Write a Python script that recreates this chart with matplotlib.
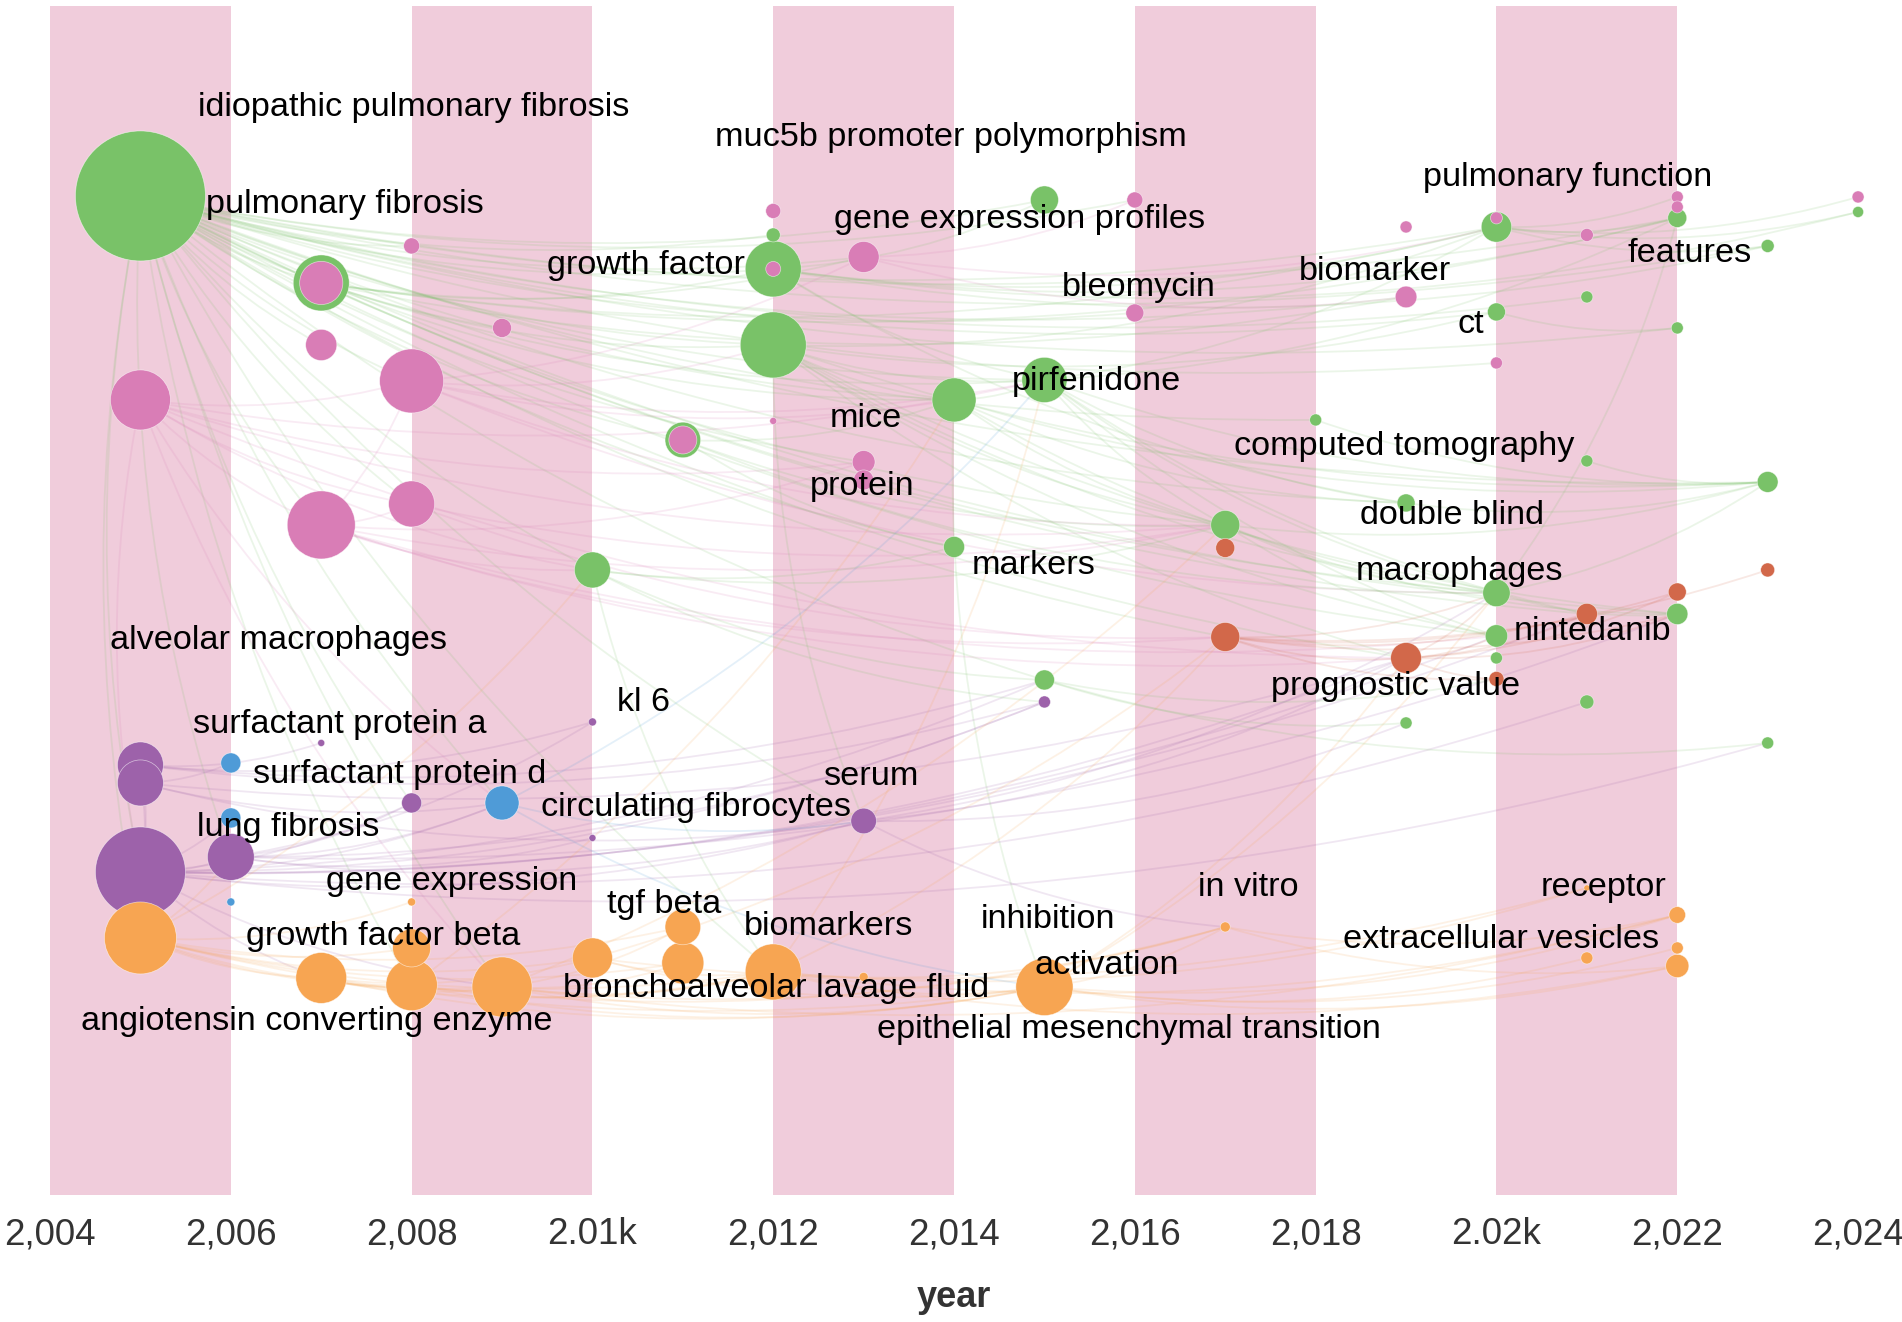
import matplotlib.pyplot as plt
from matplotlib.patches import FancyArrowPatch

plt.rcParams['font.family'] = ['Liberation Sans', 'DejaVu Sans']

# ---- nodes per cluster: year, vertical layout position (0 = top), radius in px
green_year = [2005, 2007, 2011, 2012, 2012, 2012, 2010, 2014, 2014, 2015, 2015,
              2015, 2017, 2018, 2019, 2019, 2020, 2020, 2020, 2020, 2020, 2021,
              2021, 2021, 2022, 2022, 2022, 2023, 2023, 2023, 2024]
green_pos = [196, 283, 440, 235, 269, 345, 570, 400, 547, 200, 380,
             680, 525, 420, 503, 723, 227, 312, 593, 636, 658, 297,
             461, 702, 218, 328, 614, 246, 482, 743, 212]
green_size = [65, 28, 17.8, 7, 28, 33, 18, 22, 10.5, 14, 22.6,
              10, 14.5, 6, 9, 6, 15.2, 9, 13.7, 11.2, 6, 6,
              6, 7, 9.5, 6, 10.6, 6.5, 10.4, 6, 5.5]

pink_year = [2005, 2007, 2007, 2007, 2008, 2008, 2008, 2009, 2011, 2012, 2012,
             2012, 2013, 2013, 2013, 2016, 2016, 2019, 2019, 2020, 2020, 2021,
             2022, 2022, 2024]
pink_pos = [400, 283, 345, 525, 246, 381, 504, 328, 440, 211, 269,
            421, 257, 462, 480, 200, 313, 227, 297, 218, 363, 235,
            197, 207, 197]
pink_size = [30, 21.6, 15.6, 34, 8, 32, 23, 9.5, 14, 7.5, 7.5,
             3.5, 15.5, 11.4, 10, 8, 9, 6, 10.8, 6, 6, 6.5,
             6, 6, 6]

purple_year = [2005, 2005, 2005, 2006, 2007, 2008, 2010, 2010, 2013, 2015]
purple_pos = [765, 783, 872, 857, 743, 803, 722, 838, 821, 702]
purple_size = [23, 23, 45, 23.4, 3.5, 10, 4, 3.5, 12.8, 6]

blue_year = [2006, 2006, 2006, 2009]
blue_pos = [763, 818, 902, 803]
blue_size = [10, 10, 4, 17]

orange_year = [2005, 2007, 2008, 2008, 2008, 2009, 2010, 2011, 2011, 2012,
               2013, 2015, 2017, 2021, 2021, 2022, 2022, 2022]
orange_pos = [938, 978, 948, 985, 902, 987, 958, 927, 963, 972,
              977, 987, 927, 888, 958, 915, 948, 966]
orange_size = [36, 25.4, 19, 25.7, 4, 30, 20, 17.8, 21, 28,
               4.5, 28.6, 5, 3, 6, 8.3, 6, 11.6]

red_year = [2017, 2017, 2019, 2020, 2021, 2022, 2023]
red_pos = [548, 637, 658, 679, 614, 592, 570]
red_size = [9.5, 14.5, 15.4, 7.5, 10.6, 9, 7]

# co-occurrence links (source node, target node)
edges = [
    ('g0', 'g1'), ('g0', 'p2'), ('g0', 'p3'), ('g0', 'p4'), ('g0', 'p5'), ('g0', 'p6'),
    ('g0', 'p7'), ('g0', 'g2'), ('g0', 'g3'), ('g0', 'g4'), ('g0', 'g5'), ('g0', 'g6'),
    ('g0', 'g7'), ('g0', 'g9'), ('g0', 'g10'), ('g0', 'g12'), ('g0', 'g13'), ('g0', 'g14'),
    ('g0', 'g16'), ('g0', 'g17'), ('g0', 'g18'), ('g0', 'g21'), ('g0', 'g24'), ('g0', 'g28'),
    ('g0', 'p12'), ('g0', 'p13'), ('g0', 'p15'), ('g0', 'p16'), ('g0', 'p18'), ('g0', 'o0'),
    ('g0', 'o5'), ('g0', 'b3'), ('g0', 'u3'), ('g0', 'r1'), ('g0', 'r2'), ('g0', 'g8'),
    ('g0', 'g11'), ('g0', 'o9'), ('g0', 'u5'), ('g0', 'g27'), ('g0', 'g25'), ('g0', 'p20'),
    ('g0', 'u8'), ('g0', 'r4'), ('g0', 'g19'), ('g0', 'g26'), ('g0', 'o3'), ('g0', 'u2'),
    ('p0', 'p3'), ('p0', 'p5'), ('p0', 'p6'), ('p0', 'g6'), ('p0', 'u2'), ('p0', 'g10'),
    ('p0', 'p13'), ('p0', 'r2'), ('p0', 'b3'), ('p0', 'o5'), ('p0', 'g12'),
    ('p3', 'p5'), ('p3', 'p6'), ('p3', 'g6'), ('p3', 'p13'), ('p3', 'g12'), ('p3', 'r1'),
    ('p3', 'r2'), ('p3', 'g19'),
    ('p5', 'g5'), ('p5', 'g7'), ('p5', 'p12'), ('p5', 'g10'), ('p5', 'g12'), ('p5', 'g18'),
    ('p6', 'g12'), ('p6', 'r1'),
    ('g1', 'g4'), ('g1', 'g5'), ('g1', 'g7'), ('g1', 'g10'), ('g1', 'g16'), ('g1', 'g24'),
    ('g1', 'p12'), ('g1', 'p18'),
    ('g5', 'g7'), ('g5', 'g10'), ('g5', 'g12'), ('g5', 'g16'), ('g5', 'g17'), ('g5', 'g18'),
    ('g5', 'g19'), ('g5', 'g26'), ('g5', 'g28'), ('g5', 'r2'), ('g5', 'u8'),
    ('g4', 'g9'), ('g4', 'g10'), ('g4', 'g14'), ('g4', 'g16'), ('g4', 'g24'), ('g4', 'g27'),
    ('g4', 'g30'),
    ('g7', 'g10'), ('g7', 'g12'), ('g7', 'g14'), ('g7', 'g18'), ('g7', 'g28'), ('g7', 'o11'),
    ('g10', 'g12'), ('g10', 'g14'), ('g10', 'g16'), ('g10', 'g18'), ('g10', 'g19'),
    ('g10', 'g24'), ('g10', 'g28'), ('g10', 'r4'),
    ('u2', 'u0'), ('u2', 'u1'), ('u2', 'u3'), ('u2', 'b3'), ('u2', 'u5'), ('u2', 'u8'),
    ('u2', 'u9'), ('u2', 'r2'), ('u2', 'g11'), ('u2', 'g19'), ('u2', 'b1'), ('u2', 'o1'),
    ('u2', 'o5'), ('u2', 'g23'), ('u2', 'g29'), ('u2', 'r4'),
    ('u3', 'u5'), ('u3', 'b3'), ('u3', 'u8'), ('u3', 'u9'), ('u3', 'u6'), ('u3', 'u7'),
    ('u3', 'g26'),
    ('u0', 'u4'), ('u0', 'u6'), ('u0', 'g11'), ('u0', 'u9'),
    ('u1', 'b0'), ('u1', 'b3'), ('u1', 'r2'), ('u1', 'u8'),
    ('o0', 'o1'), ('o0', 'o2'), ('o0', 'o3'), ('o0', 'o5'), ('o0', 'o6'), ('o0', 'o7'),
    ('o0', 'o8'), ('o0', 'o9'), ('o0', 'o11'), ('o0', 'o4'), ('o0', 'u3'), ('o0', 'g6'),
    ('o1', 'o3'), ('o1', 'o5'), ('o1', 'o6'), ('o1', 'o9'), ('o1', 'o11'),
    ('o3', 'o5'), ('o3', 'o9'), ('o3', 'o11'), ('o3', 'o12'), ('o3', 'g7'),
    ('o5', 'o7'), ('o5', 'o8'), ('o5', 'o9'), ('o5', 'o11'), ('o5', 'o12'), ('o5', 'o15'),
    ('o5', 'g12'),
    ('o9', 'o11'), ('o9', 'o12'), ('o9', 'o13'), ('o9', 'o15'), ('o9', 'o17'), ('o9', 'r1'),
    ('o9', 'g10'),
    ('o11', 'o12'), ('o11', 'o14'), ('o11', 'o15'), ('o11', 'o17'), ('o11', 'o16'),
    ('o11', 'r2'), ('o11', 'g18'),
    ('o6', 'o9'), ('o6', 'o11'), ('o6', 'r1'), ('o6', 'o13'),
    ('o12', 'o15'), ('o12', 'o17'),
    ('r1', 'r2'), ('r1', 'r3'), ('r1', 'r4'), ('r1', 'r5'), ('r1', 'r6'), ('r1', 'g18'),
    ('r1', 'g26'),
    ('r2', 'r3'), ('r2', 'r4'), ('r2', 'r5'), ('r2', 'g18'), ('r2', 'g19'), ('r2', 'g26'),
    ('g12', 'g18'), ('g12', 'g19'), ('g12', 'g28'), ('g12', 'g26'),
    ('g18', 'g26'), ('g18', 'g28'), ('g18', 'g24'),
    ('g16', 'g24'), ('g16', 'g27'), ('g16', 'g30'), ('g16', 'p22'), ('g16', 'p24'),
    ('p12', 'p15'), ('p12', 'p18'), ('p12', 'g16'),
    ('u8', 'o12'), ('u8', 'r2'), ('u8', 'g15'), ('u8', 'g18'),
    ('b3', 'u8'), ('b3', 'o11'), ('b3', 'g10'),
    ('g11', 'g15'), ('g11', 'g29'), ('g11', 'r3'),
    ('g6', 'g8'), ('g6', 'g12'), ('g6', 'u9'), ('g6', 'g11'), ('g6', 'o9'),
    ('g2', 'g7'), ('g2', 'g12'), ('g2', 'g8'), ('g2', 'g18'),
    ('g13', 'g28'), ('g14', 'g28'), ('g17', 'g25'), ('g22', 'g28'),
]

keywords = ['idiopathic pulmonary fibrosis', 'pulmonary fibrosis', 'growth factor',
            'muc5b promoter polymorphism', 'gene expression profiles', 'bleomycin',
            'pirfenidone', 'mice', 'pulmonary function', 'features', 'biomarker', 'ct',
            'computed tomography', 'double blind', 'macrophages', 'nintedanib',
            'prognostic value', 'protein', 'markers', 'serum', 'circulating fibrocytes',
            'alveolar macrophages', 'kl 6', 'surfactant protein a', 'surfactant protein d',
            'lung fibrosis', 'gene expression', 'tgf beta', 'growth factor beta',
            'biomarkers', 'inhibition', 'in vitro', 'receptor', 'extracellular vesicles',
            'activation', 'bronchoalveolar lavage fluid', 'angiotensin converting enzyme',
            'epithelial mesenchymal transition']
# label anchor points (centre of text)
label_x = [2008.02, 2007.26, 2010.59, 2013.96, 2014.72, 2016.04, 2015.58, 2013.02,
           2020.79, 2022.14, 2018.66, 2019.72, 2018.98, 2019.51, 2019.59, 2021.06,
           2018.88, 2012.98, 2014.88, 2013.08, 2011.15, 2006.53, 2010.57, 2007.20,
           2007.87, 2006.64, 2008.44, 2010.79, 2007.69, 2012.61, 2015.04, 2017.25,
           2021.18, 2020.05, 2015.69, 2012.03, 2006.95, 2015.94]
label_y = [108, 205, 266, 138, 220, 288, 382, 419, 178, 254, 272, 325, 447, 516, 572, 632,
           687, 487, 566, 777, 808, 641, 703, 725, 775, 828, 882, 905, 937, 927, 920, 888,
           888, 940, 966, 989, 1022, 1030]

ticks = [2004, 2006, 2008, 2010, 2012, 2014, 2016, 2018, 2020, 2022, 2024]
tick_labels = ['2,004', '2,006', '2,008', '2.01k', '2,012', '2,014', '2,016', '2,018',
               '2.02k', '2,022', '2,024']
bands = [(2004, 2006), (2008, 2010), (2012, 2014), (2016, 2018), (2020, 2022)]

clusters = {
    'g': (green_year, green_pos, green_size, '#79c268'),
    'p': (pink_year, pink_pos, pink_size, '#d97db6'),
    'u': (purple_year, purple_pos, purple_size, '#9d62aa'),
    'b': (blue_year, blue_pos, blue_size, '#4f9bd7'),
    'o': (orange_year, orange_pos, orange_size, '#f7a552'),
    'r': (red_year, red_pos, red_size, '#d2684a'),
}

nodes = {}
for key, (yr, pos, size, col) in clusters.items():
    for i in range(len(yr)):
        nodes[key + str(i)] = (yr[i], pos[i], size[i], col)

dpi = 100
fig = plt.figure(figsize=(19.02, 13.22), dpi=dpi)
ax = fig.add_axes([0.0263, 0.0961, 0.9506, 0.8994])
ax.set_xlim(2004, 2024)
ax.set_ylim(1195, 6)

for a, b in bands:
    ax.axvspan(a, b, color='#f0ccdb', lw=0, zorder=0)

for s, t in edges:
    x1, y1, _, col = nodes[s]
    x2, y2, _, _ = nodes[t]
    ax.add_patch(FancyArrowPatch((x1, y1), (x2, y2), arrowstyle='-',
                                 connectionstyle='arc3,rad=0.1', color=col,
                                 alpha=0.15, lw=1.3, shrinkA=0, shrinkB=0, zorder=1))

order = sorted(nodes.values(), key=lambda n: -n[2])
ax.scatter([n[0] for n in order], [n[1] for n in order],
           s=[(2 * n[2] * 72 / dpi) ** 2 for n in order],
           c=[n[3] for n in order], edgecolors='#ffffff99', linewidths=0.5,
           zorder=2, clip_on=False)

for txt, x, y in zip(keywords, label_x, label_y):
    ax.text(x, y, txt, fontsize=24.7, ha='center', va='center', color='black', zorder=3)

ax.set_xticks(ticks)
ax.set_xticklabels(tick_labels, fontsize=26.5, color='#333333')
ax.set_yticks([])
ax.tick_params(axis='x', length=0, pad=16)
ax.set_xlabel('year', fontsize=26, fontweight='bold', color='#333333', labelpad=20)
for sp in ax.spines.values():
    sp.set_visible(False)

fig.savefig('out.png', dpi=dpi)
